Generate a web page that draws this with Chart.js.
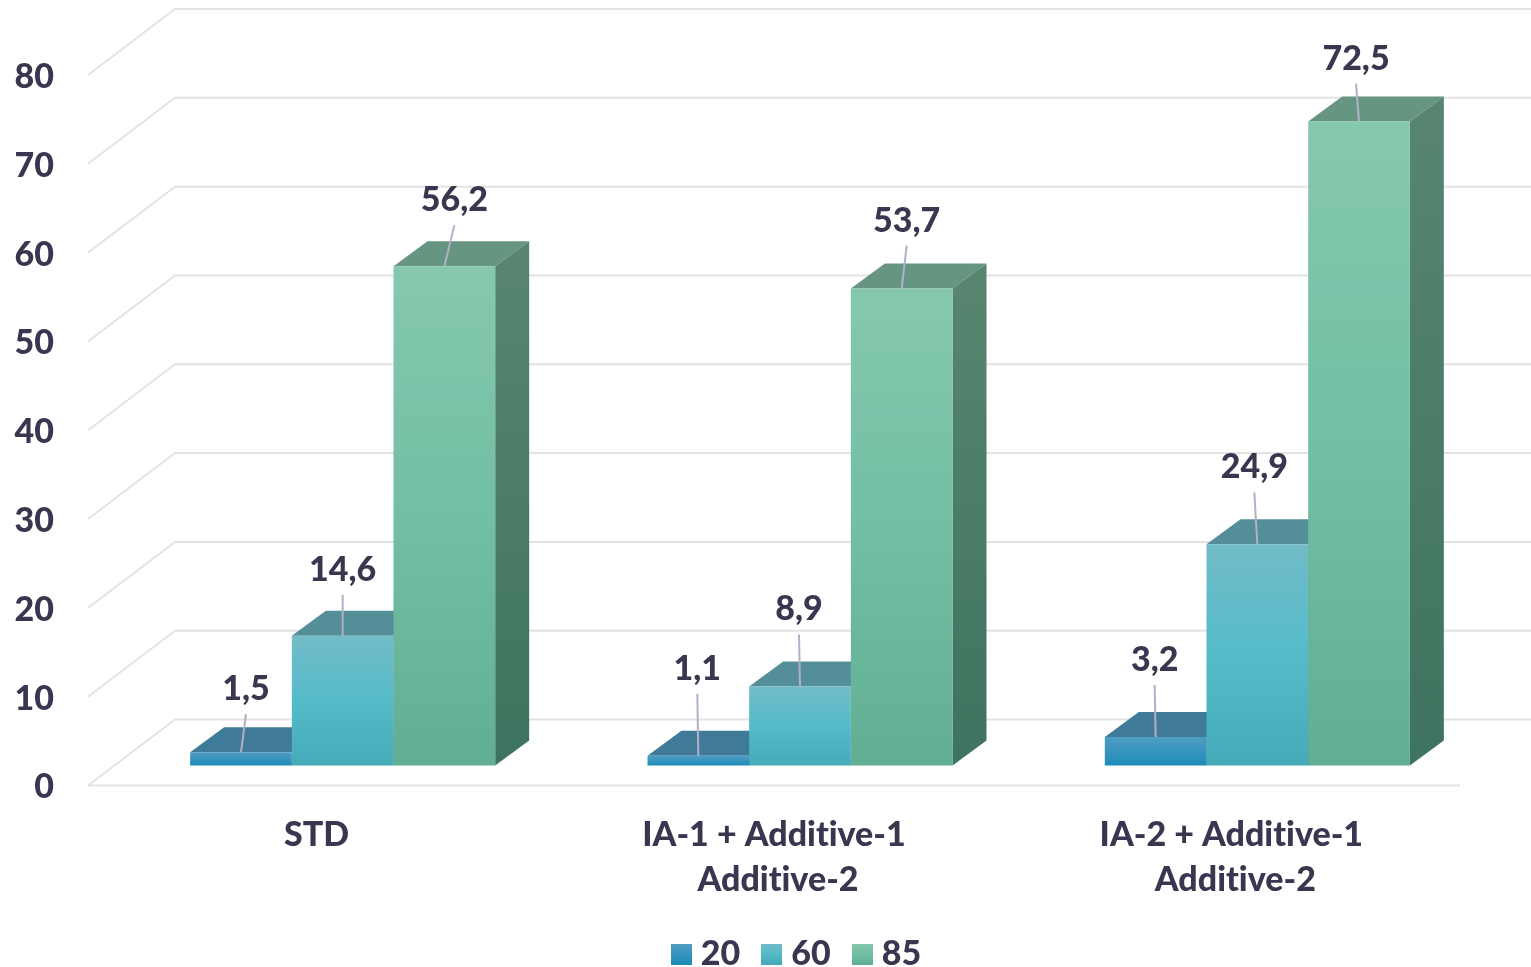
<!DOCTYPE html>
<html>
<head>
<meta charset="utf-8">
<title>Chart</title>
<script src="https://cdn.jsdelivr.net/npm/chart.js@4"></script>
<style>
  html, body { margin: 0; padding: 0; background: #fff; overflow: hidden; }
  #wrap { width: 1531px; height: 967px; }
</style>
</head>
<body>
<div id="wrap"><canvas id="myChart"></canvas></div>
<script>
const categories = ["STD", ["IA-1 + Additive-1", " Additive-2"], ["IA-2 + Additive-1", " Additive-2"]];
const seriesNames = ["20", "60", "85"];
const values20 = [1.5, 1.1, 3.2];
const values60 = [14.6, 8.9, 24.9];
const values85 = [56.2, 53.7, 72.5];

// leader line of each value label: sideways lean and length, by series then category
const leaderLean = [[5, -1, -1], [0, -1, -3], [10, 5, -3]];
const leaderLength = [[38, 62, 52], [41, 52, 52], [41, 43, 38]];

const TEXT_COLOR = "#3a3650";
const GRID_COLOR = "#e3e3e3";
const FONT = "Lato, 'Open Sans', sans-serif";
const FONT_WEIGHT = "900";

// wall depth and how far the bars stand in front of the back wall
const WALL_DX = 87, WALL_DY = -66;
const BAR_SHIFT_X = 26, BAR_SHIFT_Y = -20;
const BAR_DX = 34, BAR_DY = -25;

const frontColors = [
  ["#4f9dc3", "#1e8cba"],
  ["#72bcc8", "#55bbc9", "#45abb8"],
  ["#85c8ae", "#72bfa3", "#61ae92"],
];
const topColors = ["#3f7a99", "#548f99", "#669682"];
const sideColors = [
  ["#35678a", "#2a5a7a"],
  ["#467a84", "#3a6a74"],
  ["#578570", "#3e735f"],
];

function verticalGradient(ctx, y0, y1, stops) {
  const g = ctx.createLinearGradient(0, y0, 0, y1);
  stops.forEach((c, i) => g.addColorStop(i / (stops.length - 1), c));
  return g;
}

function frontFill(context) {
  const chart = context.chart;
  if (!chart.chartArea || context.parsed === undefined) return frontColors[context.datasetIndex][0];
  const y = chart.scales.y;
  return verticalGradient(chart.ctx, y.getPixelForValue(context.parsed.y), y.getPixelForValue(0), frontColors[context.datasetIndex]);
}

function legendSwatch(stops) {
  const c = document.createElement("canvas");
  c.width = 21;
  c.height = 21;
  const g = c.getContext("2d");
  g.fillStyle = verticalGradient(g, 0, 21, stops);
  g.fillRect(0, 0, 21, 21);
  return c;
}

function fillPoly(ctx, pts, fill) {
  ctx.beginPath();
  pts.forEach((p, i) => (i ? ctx.lineTo(p[0], p[1]) : ctx.moveTo(p[0], p[1])));
  ctx.closePath();
  ctx.fillStyle = fill;
  ctx.fill();
}

const wallsPlugin = {
  id: "walls",
  // the legend sits off-centre, under the bars rather than the axis
  afterLayout(chart) {
    chart.legend.left += 70;
    chart.legend.right += 70;
    chart.legend.top += 14;
    chart.legend.bottom += 14;
  },
  beforeDraw(chart) {
    chart.ctx.textRendering = "optimizeSpeed";
  },
  beforeDatasetsDraw(chart) {
    const { ctx, chartArea, scales } = chart;
    // back wall, left wall and floor, taken from the value axis ticks
    ctx.save();
    ctx.strokeStyle = GRID_COLOR;
    ctx.lineWidth = 2;
    scales.y.ticks.forEach((tick) => {
      const y = scales.y.getPixelForValue(tick.value);
      ctx.beginPath();
      ctx.moveTo(chartArea.left, y);
      ctx.lineTo(chartArea.left + WALL_DX, y + WALL_DY);
      ctx.lineTo(chart.width, y + WALL_DY);
      ctx.stroke();
    });
    const floor = scales.y.getPixelForValue(0);
    ctx.beginPath();
    ctx.moveTo(chartArea.left, floor);
    ctx.lineTo(chartArea.right, floor);
    ctx.stroke();
    ctx.restore();

    // top and side faces, left bar first; the library paints the fronts over them
    ctx.save();
    ctx.translate(BAR_SHIFT_X, BAR_SHIFT_Y);
    chart.data.datasets.forEach((ds, s) => {
      chart.getDatasetMeta(s).data.forEach((bar) => {
        const l = bar.x - bar.width / 2, r = bar.x + bar.width / 2;
        fillPoly(ctx, [[l, bar.y], [r, bar.y], [r + BAR_DX, bar.y + BAR_DY], [l + BAR_DX, bar.y + BAR_DY]], topColors[s]);
        fillPoly(ctx, [[r, bar.y], [r + BAR_DX, bar.y + BAR_DY], [r + BAR_DX, bar.base + BAR_DY], [r, bar.base]],
          verticalGradient(ctx, bar.y, bar.base, sideColors[s]));
      });
    });
    ctx.restore();
  },
  beforeDatasetDraw(chart) {
    chart.ctx.save();
    chart.ctx.translate(BAR_SHIFT_X, BAR_SHIFT_Y);
  },
  afterDatasetDraw(chart) {
    chart.ctx.restore();
  },
  afterDatasetsDraw(chart) {
    const ctx = chart.ctx;
    ctx.save();
    ctx.font = FONT_WEIGHT + " 34px " + FONT;
    ctx.textAlign = "center";
    ctx.textBaseline = "middle";
    chart.data.datasets.forEach((ds, s) => {
      chart.getDatasetMeta(s).data.forEach((bar, i) => {
        const x = bar.x + BAR_SHIFT_X, y = bar.y + BAR_SHIFT_Y;
        const lineTop = y - leaderLength[s][i];
        const lineX = x + leaderLean[s][i];
        ctx.strokeStyle = "#b3afc6";
        ctx.lineWidth = 2;
        ctx.beginPath();
        ctx.moveTo(x, y);
        ctx.lineTo(lineX, lineTop);
        ctx.stroke();
        ctx.fillStyle = TEXT_COLOR;
        ctx.fillText(String(ds.data[i]).replace(".", ","), lineX, lineTop - 25);
      });
    });
    ctx.restore();
  },
};

const seriesValues = [values20, values60, values85];

new Chart(document.getElementById("myChart"), {
  type: "bar",
  plugins: [wallsPlugin],
  data: {
    labels: categories,
    datasets: seriesValues.map((vals, i) => ({
      label: seriesNames[i],
      data: vals,
      backgroundColor: frontFill,
      clip: false,
      categoryPercentage: 0.667,
      barPercentage: 1,
    })),
  },
  options: {
    responsive: true,
    maintainAspectRatio: false,
    animation: false,
    layout: { padding: { top: 75, right: 71, left: 0, bottom: 0 } },
    plugins: {
      tooltip: { enabled: false },
      legend: {
        position: "bottom",
        labels: {
          usePointStyle: true,
          pointStyleWidth: 5,
          padding: 29,
          color: TEXT_COLOR,
          font: { family: FONT, size: 34, weight: FONT_WEIGHT },
          generateLabels: (chart) =>
            chart.data.datasets.map((ds, i) => ({
              text: ds.label,
              fontColor: TEXT_COLOR,
              pointStyle: legendSwatch(frontColors[i]),
              lineWidth: 0,
              datasetIndex: i,
            })),
        },
      },
    },
    scales: {
      x: {
        grid: { display: false },
        border: { display: false },
        ticks: {
          color: TEXT_COLOR,
          padding: 19,
          maxRotation: 0,
          font: { family: FONT, size: 34, weight: FONT_WEIGHT, lineHeight: 45 / 34 },
        },
        afterFit: (scale) => { scale.height = 108.5; },
      },
      y: {
        min: 0,
        max: 80,
        grid: { display: false },
        border: { display: false },
        ticks: {
          stepSize: 10,
          color: TEXT_COLOR,
          padding: 26,
          labelOffset: 2,
          font: { family: FONT, size: 34, weight: FONT_WEIGHT },
        },
        afterFit: (scale) => { scale.width = 88; },
      },
    },
  },
});
</script>
</body>
</html>
